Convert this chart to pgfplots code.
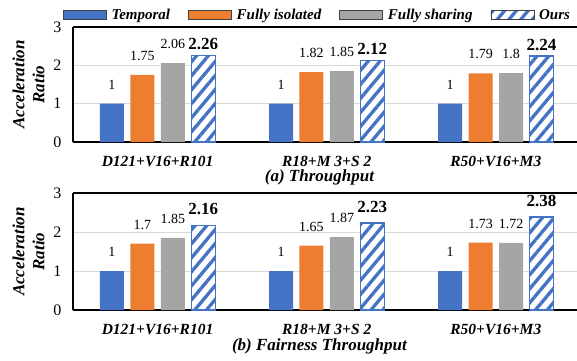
\documentclass[border=0pt]{standalone}
\usepackage{fontspec}
\setmainfont{Liberation Serif}
\usepackage{pgfplots}
\pgfplotsset{compat=1.18}
\usetikzlibrary{patterns.meta}
\definecolor{cT}{HTML}{4472C4}
\definecolor{cI}{HTML}{ED7D31}
\definecolor{cS}{HTML}{A5A5A5}
\pgfplotsset{
  /pgf/number format/assume math mode=true,
  mybar/.style={bar width=0.142,
    legend image code/.code={\draw[##1, draw=black!75, line width=0.6pt] (0pt,-4.5pt) rectangle (43pt,4.5pt);}},
  reglab/.style={nodes near coords, every node near coord/.append style={anchor=south, inner sep=0pt, yshift=14pt, font=\fontsize{14}{16}\selectfont, text=black}},
  boldlab/.style={nodes near coords, every node near coord/.append style={anchor=south, inner sep=0pt, yshift=#1, font=\fontsize{17}{19}\selectfont\bfseries, text=black}},
  oursstyle/.style={draw=cT, line width=1.4pt, fill=white, postaction={pattern={Lines[angle=50,distance=9pt,line width=3.3pt]}, pattern color=cT}},
  common/.style={
    scale only axis, width=504pt,
    xmin=-0.5, xmax=2.48, ymin=0, ymax=3,
    ytick={0,1,2,3}, xtick={0,1,2},
    xticklabels={D121+V16+R101, R18+M 3+S 2, R50+V16+M3},
    ybar,
    axis x line=box, axis y line=left,
    axis line style={-, line width=1.3pt, black},
    major tick length=0pt,
    ymajorgrids, grid style={draw=black!15, line width=0.8pt},
    yticklabel style={font=\fontsize{16}{18}\selectfont, xshift=-8pt},
    xticklabel style={font=\fontsize{15.5}{18}\selectfont\bfseries\itshape, inner sep=0pt, anchor=north, yshift=-14pt},
    ylabel={Acceleration\\Ratio},
    ylabel style={at={(axis description cs:-0.088,0.5)}, anchor=center, align=center, font=\fontsize{17}{20}\selectfont\bfseries\itshape},
    xlabel style={at={(axis description cs:0.489,0)}, anchor=north, inner sep=0pt, yshift=-28pt, font=\fontsize{17}{20}\selectfont\bfseries\itshape},
  },
}
\begin{document}
\begin{tikzpicture}
\path[use as bounding box] (0pt,0pt) rectangle (577pt,360pt);
\begin{axis}[common, at={(73pt,218pt)}, anchor=south west, height=115pt,
  xlabel={(a) Throughput},
  legend columns=4,
  legend style={at={(0.485,1)}, anchor=south, yshift=4pt, draw=none, fill=none, inner sep=0pt,
    font=\fontsize{15}{18}\selectfont\bfseries\itshape,
    /tikz/every odd column/.append style={column sep=3pt},
    /tikz/every even column/.append style={column sep=16pt}},
]
\addplot[mybar, bar shift=-0.27, fill=cT, draw=none, reglab] coordinates {(0,1) (1,1) (2,1)};
\addplot[mybar, bar shift=-0.09, fill=cI, draw=none, reglab] coordinates {(0,1.75) (1,1.82) (2,1.79)};
\addplot[mybar, bar shift=0.09, fill=cS, draw=none, reglab] coordinates {(0,2.06) (1,1.85) (2,1.8)};
\addplot[mybar, bar shift=0.27, oursstyle, boldlab=5pt] coordinates {(0,2.26) (1,2.12) (2,2.24)};
\legend{Temporal, Fully isolated, Fully sharing, Ours}
\end{axis}
\begin{axis}[common, at={(73pt,50pt)}, anchor=south west, height=117pt,
  xlabel={(b) Fairness Throughput},
]
\addplot[mybar, bar shift=-0.27, fill=cT, draw=none, reglab] coordinates {(0,1) (1,1) (2,1)};
\addplot[mybar, bar shift=-0.09, fill=cI, draw=none, reglab] coordinates {(0,1.7) (1,1.65) (2,1.73)};
\addplot[mybar, bar shift=0.09, fill=cS, draw=none, reglab] coordinates {(0,1.85) (1,1.87) (2,1.72)};
\addplot[mybar, bar shift=0.27, oursstyle, boldlab=10pt] coordinates {(0,2.16) (1,2.23) (2,2.38)};
\end{axis}
\end{tikzpicture}
\end{document}
